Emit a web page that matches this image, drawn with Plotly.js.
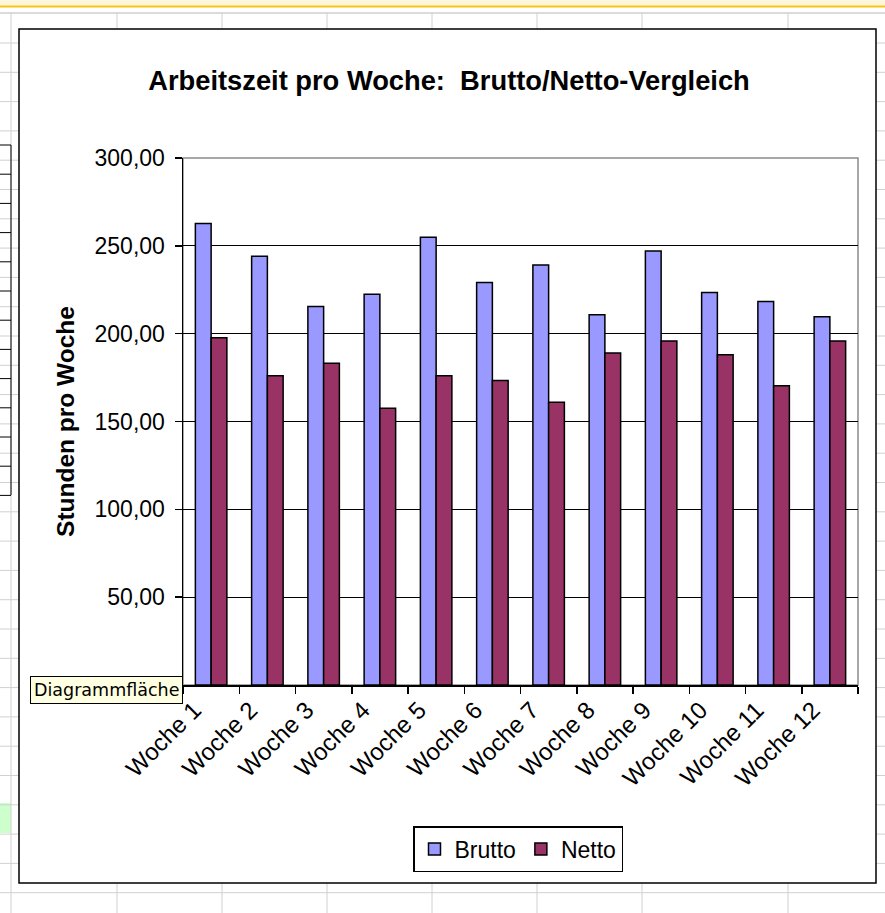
<!DOCTYPE html>
<html>
<head>
<meta charset="utf-8">
<script src="https://cdn.plot.ly/plotly-3.0.1.min.js"></script>
<style>html,body{margin:0;padding:0;background:#fff;}</style>
</head>
<body>
<div id="chart" style="width:885px;height:913px;"></div>
<script>
const categories = ["Woche 1","Woche 2","Woche 3","Woche 4","Woche 5","Woche 6","Woche 7","Woche 8","Woche 9","Woche 10","Woche 11","Woche 12"];
const brutto = [262.7, 244.0, 215.4, 222.5, 254.9, 229.1, 239.1, 210.7, 247.1, 223.4, 218.3, 209.7];
const netto  = [197.7, 176.0, 183.1, 157.5, 176.0, 173.4, 161.0, 189.0, 195.8, 188.0, 170.3, 195.8];
const seriesNames = ["Brutto", "Netto"];
const yTicks = [50, 100, 150, 200, 250, 300];

const W = 885, H = 913;
const PL = 183, PR = 858, PT = 158, PB = 685;
// pixel -> plot-area "paper" coordinates
function px(x){ return (x - PL) / (PR - PL); }
function py(y){ return (PB - y) / (PB - PT); }

const shapes = [];
// spreadsheet background: top bar
shapes.push({type:'rect', xref:'paper', yref:'paper', x0:px(0), x1:px(W), y0:py(0), y1:py(6), fillcolor:'#FFF6DD', line:{width:0}, layer:'below'});
shapes.push({type:'line', xref:'paper', yref:'paper', x0:px(0), x1:px(W), y0:py(6.5), y1:py(6.5), line:{color:'#F5C518', width:2}, layer:'below'});
shapes.push({type:'line', xref:'paper', yref:'paper', x0:px(0), x1:px(W), y0:py(13), y1:py(13), line:{color:'#B8B8B8', width:1}, layer:'below'});
// green cell
shapes.push({type:'rect', xref:'paper', yref:'paper', x0:px(0), x1:px(11), y0:py(803), y1:py(833), fillcolor:'#CCFFCC', line:{width:0}, layer:'below'});
// column grid lines
[11, 117, 222, 327, 432, 537, 642, 788].forEach(function(x){
  shapes.push({type:'line', xref:'paper', yref:'paper', x0:px(x), x1:px(x), y0:py(13), y1:py(H), line:{color:'#D0D0D0', width:1}, layer:'below'});
});
// row grid lines
for (let y = 43; y < H; y += 29.3) {
  shapes.push({type:'line', xref:'paper', yref:'paper', x0:px(0), x1:px(W), y0:py(y), y1:py(y), line:{color:'#D0D0D0', width:1}, layer:'below'});
}
// left table borders
shapes.push({type:'line', xref:'paper', yref:'paper', x0:px(11), x1:px(11), y0:py(145), y1:py(495), line:{color:'#000', width:1}, layer:'below'});
for (let y = 145; y <= 496; y += 29.2) {
  shapes.push({type:'line', xref:'paper', yref:'paper', x0:px(0), x1:px(11), y0:py(y), y1:py(y), line:{color:'#000', width:1}, layer:'below'});
}
// chart frame
shapes.push({type:'rect', xref:'paper', yref:'paper', x0:px(19), x1:px(876), y0:py(883), y1:py(29), fillcolor:'#FFFFFF', line:{color:'#000', width:1.5}, layer:'below'});
// plot area border (gray top/right)
shapes.push({type:'rect', xref:'x domain', yref:'y domain', x0:0, x1:1, y0:0, y1:1, line:{color:'#8C8C8C', width:1.5}, layer:'below'});

const data = [
  {type:'bar', name:seriesNames[0], x:categories, y:brutto,
   marker:{color:'#9999FF', line:{color:'#000', width:1.5}}},
  {type:'bar', name:seriesNames[1], x:categories, y:netto,
   marker:{color:'#993366', line:{color:'#000', width:1.5}}}
];

const layout = {
  width: W, height: H,
  margin: {l:PL, r:W-PR, t:PT, b:H-PB, pad:0},
  paper_bgcolor: '#FFFFFF',
  plot_bgcolor: '#C0C0C0',
  separators: ',.',
  barmode: 'group',
  bargap: 0.44,
  bargroupgap: 0,
  showlegend: true,
  font: {family: 'Liberation Sans, Arial, sans-serif', color:'#000'},
  title: {text: '<b>Arbeitszeit pro Woche:  Brutto/Netto-Vergleich</b>',
          font: {family:'Liberation Sans, Arial, sans-serif', size:27.3, color:'#000'},
          x: 449/W, xanchor:'center', xref:'container', y: 1 - 80/H, yanchor:'middle', yref:'container'},
  xaxis: {
    type:'category', tickangle:-45, ticks:'outside', ticklen:7, tickcolor:'#000', tickwidth:1.5,
    tickson:'boundaries', showline:true, linecolor:'#000', linewidth:1.5,
    showgrid:false, zeroline:false, ticklabelshift:-17,
    tickfont:{family:'Liberation Sans, Arial, sans-serif', size:24, color:'#000'},
    automargin:false
  },
  yaxis: {
    range:[0,300], tickvals:yTicks, tickformat:'.2f', ticks:'outside', ticklen:7, tickcolor:'#000', tickwidth:1.5,
    showline:true, linecolor:'#000', linewidth:1.5, ticklabelstandoff:5,
    showgrid:true, gridcolor:'#000', gridwidth:1.2, zeroline:false,
    tickfont:{family:'Liberation Sans, Arial, sans-serif', size:23, color:'#000'},
    title:{text:'<b>Stunden pro Woche</b>', font:{family:'Liberation Sans, Arial, sans-serif', size:24.5, color:'#000'}, standoff:13},
    automargin:false
  },
  legend: {
    orientation:'h', xref:'container', yref:'container', x:518/W, xanchor:'center', y:1 - 849/H, yanchor:'middle',
    bordercolor:'#000', borderwidth:1.5, bgcolor:'#FFFFFF',
    font:{family:'Liberation Sans, Arial, sans-serif', size:23, color:'#000'},
    itemwidth:30, traceorder:'normal'
  },
  shapes: shapes,
  annotations: [
    {text:'Diagrammfläche', xref:'paper', yref:'paper', x:px(30), y:py(690), xanchor:'left', yanchor:'middle',
     showarrow:false, bgcolor:'#FFFFE1', bordercolor:'#000', borderwidth:1, borderpad:3,
     font:{family:'DejaVu Sans, Verdana, sans-serif', size:17.5, color:'#000'}}
  ]
};

Plotly.newPlot('chart', data, layout, {displayModeBar:false, staticPlot:true});
</script>
</body>
</html>
